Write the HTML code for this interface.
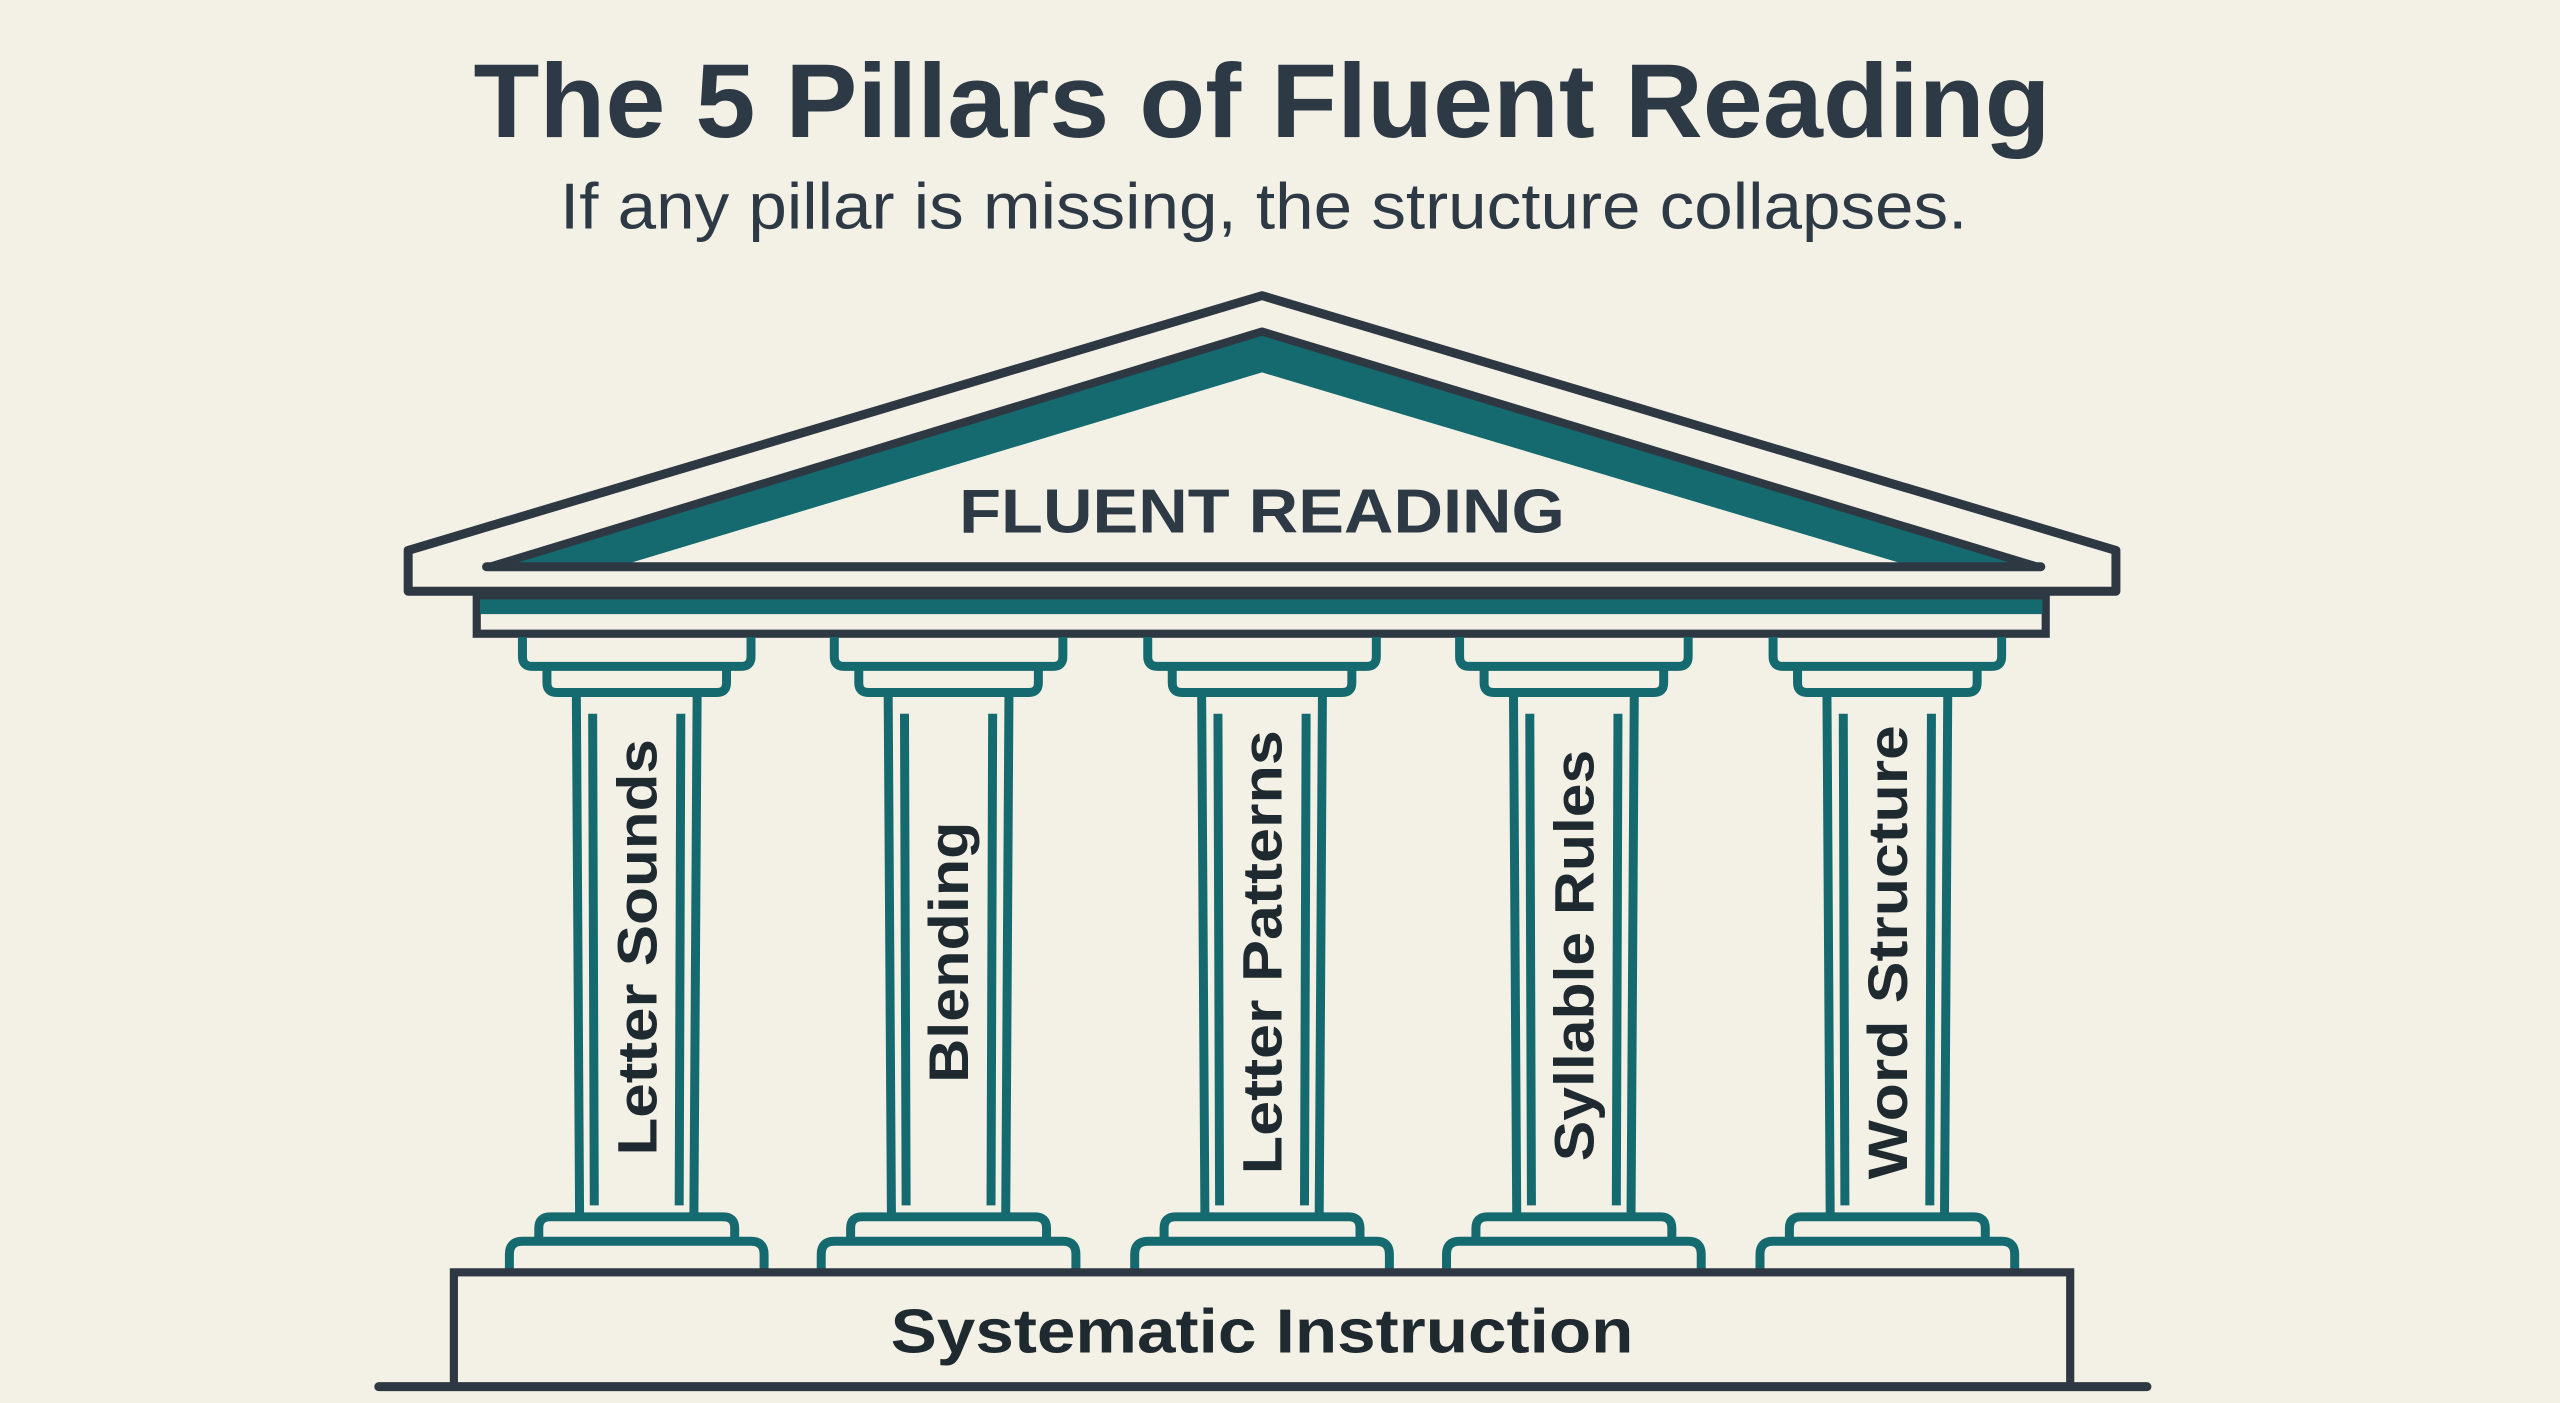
<!DOCTYPE html>
<html><head><meta charset="utf-8"><style>
html,body{margin:0;padding:0;background:#f3f0e6;}
svg{display:block;}
text{font-family:"Liberation Sans",sans-serif;}
</style></head><body>
<svg width="2560" height="1403" viewBox="0 0 1568 859" preserveAspectRatio="none" xmlns="http://www.w3.org/2000/svg">
<rect width="1568" height="859" fill="#f3f0e6"/>
<text x="773" y="84" text-anchor="middle" font-size="64" font-weight="bold" fill="#2d3a45" textLength="966" lengthAdjust="spacingAndGlyphs">The 5 Pillars of Fluent Reading</text>
<text x="774" y="140" text-anchor="middle" font-size="40" fill="#2d3a45" textLength="862" lengthAdjust="spacingAndGlyphs">If any pillar is missing, the structure collapses.</text>

<polygon points="773,181 1296,337 1296,362 250,362 250,337" fill="#f3f0e6" stroke="#2e3842" stroke-width="5.5" stroke-linejoin="round"/>
<polygon points="300,347 773,203 1248,347" fill="#146a6e" stroke="#2e3842" stroke-width="5" stroke-linejoin="round"/>
<polygon points="385,345 773,228 1165,345" fill="#f3f0e6"/>
<line x1="298" y1="347" x2="1250" y2="347" stroke="#2e3842" stroke-width="5.5" stroke-linecap="round"/>
<text x="773" y="326" text-anchor="middle" font-size="38" font-weight="bold" fill="#2d3a45" textLength="371" lengthAdjust="spacingAndGlyphs">FLUENT READING</text>

<rect x="292" y="365" width="961" height="23" fill="#f3f0e6" stroke="#2e3842" stroke-width="5"/>
<rect x="294" y="367" width="957" height="9" fill="#146a6e"/>

<g fill="none" stroke="#146a6e" stroke-width="5.5" stroke-linejoin="round">
<g transform="translate(390,0)">
<path d="M-70,390 V402 Q-70,408 -64,408 H64 Q70,408 70,402 V390"/>
<path d="M-55,408 V418 Q-55,424 -49,424 H49 Q55,424 55,418 V408"/>
<path d="M-37,424 L-35,745 M37,424 L35,745 M-27,437 L-26,738 M27,437 L26,738"/>
<path d="M-60,760 V752 Q-60,745 -53,745 H53 Q60,745 60,752 V760"/>
<path d="M-78,778 V768 Q-78,760 -70,760 H70 Q78,760 78,768 V778"/>
</g>
<g transform="translate(581,0)">
<path d="M-70,390 V402 Q-70,408 -64,408 H64 Q70,408 70,402 V390"/>
<path d="M-55,408 V418 Q-55,424 -49,424 H49 Q55,424 55,418 V408"/>
<path d="M-37,424 L-35,745 M37,424 L35,745 M-27,437 L-26,738 M27,437 L26,738"/>
<path d="M-60,760 V752 Q-60,745 -53,745 H53 Q60,745 60,752 V760"/>
<path d="M-78,778 V768 Q-78,760 -70,760 H70 Q78,760 78,768 V778"/>
</g>
<g transform="translate(773,0)">
<path d="M-70,390 V402 Q-70,408 -64,408 H64 Q70,408 70,402 V390"/>
<path d="M-55,408 V418 Q-55,424 -49,424 H49 Q55,424 55,418 V408"/>
<path d="M-37,424 L-35,745 M37,424 L35,745 M-27,437 L-26,738 M27,437 L26,738"/>
<path d="M-60,760 V752 Q-60,745 -53,745 H53 Q60,745 60,752 V760"/>
<path d="M-78,778 V768 Q-78,760 -70,760 H70 Q78,760 78,768 V778"/>
</g>
<g transform="translate(964,0)">
<path d="M-70,390 V402 Q-70,408 -64,408 H64 Q70,408 70,402 V390"/>
<path d="M-55,408 V418 Q-55,424 -49,424 H49 Q55,424 55,418 V408"/>
<path d="M-37,424 L-35,745 M37,424 L35,745 M-27,437 L-26,738 M27,437 L26,738"/>
<path d="M-60,760 V752 Q-60,745 -53,745 H53 Q60,745 60,752 V760"/>
<path d="M-78,778 V768 Q-78,760 -70,760 H70 Q78,760 78,768 V778"/>
</g>
<g transform="translate(1156,0)">
<path d="M-70,390 V402 Q-70,408 -64,408 H64 Q70,408 70,402 V390"/>
<path d="M-55,408 V418 Q-55,424 -49,424 H49 Q55,424 55,418 V408"/>
<path d="M-37,424 L-35,745 M37,424 L35,745 M-27,437 L-26,738 M27,437 L26,738"/>
<path d="M-60,760 V752 Q-60,745 -53,745 H53 Q60,745 60,752 V760"/>
<path d="M-78,778 V768 Q-78,760 -70,760 H70 Q78,760 78,768 V778"/>
</g>
</g>

<g font-size="34" font-weight="bold" fill="#1f2a30" text-anchor="middle">
<text transform="translate(402,580) rotate(-90)" textLength="255" lengthAdjust="spacingAndGlyphs">Letter Sounds</text>
<text transform="translate(593,583) rotate(-90)" textLength="160" lengthAdjust="spacingAndGlyphs">Blending</text>
<text transform="translate(785,583) rotate(-90)" textLength="272" lengthAdjust="spacingAndGlyphs">Letter Patterns</text>
<text transform="translate(976,585) rotate(-90)" textLength="252" lengthAdjust="spacingAndGlyphs">Syllable Rules</text>
<text transform="translate(1168,583) rotate(-90)" textLength="278" lengthAdjust="spacingAndGlyphs">Word Structure</text>
</g>

<rect x="278" y="779" width="990" height="70" fill="#f3f0e6" stroke="#2e3842" stroke-width="5"/>
<line x1="232" y1="849" x2="1315" y2="849" stroke="#2e3842" stroke-width="5.5" stroke-linecap="round"/>
<text x="773" y="828" text-anchor="middle" font-size="38" font-weight="bold" fill="#1f2a30" textLength="455" lengthAdjust="spacingAndGlyphs">Systematic Instruction</text>
</svg>
</body></html>
